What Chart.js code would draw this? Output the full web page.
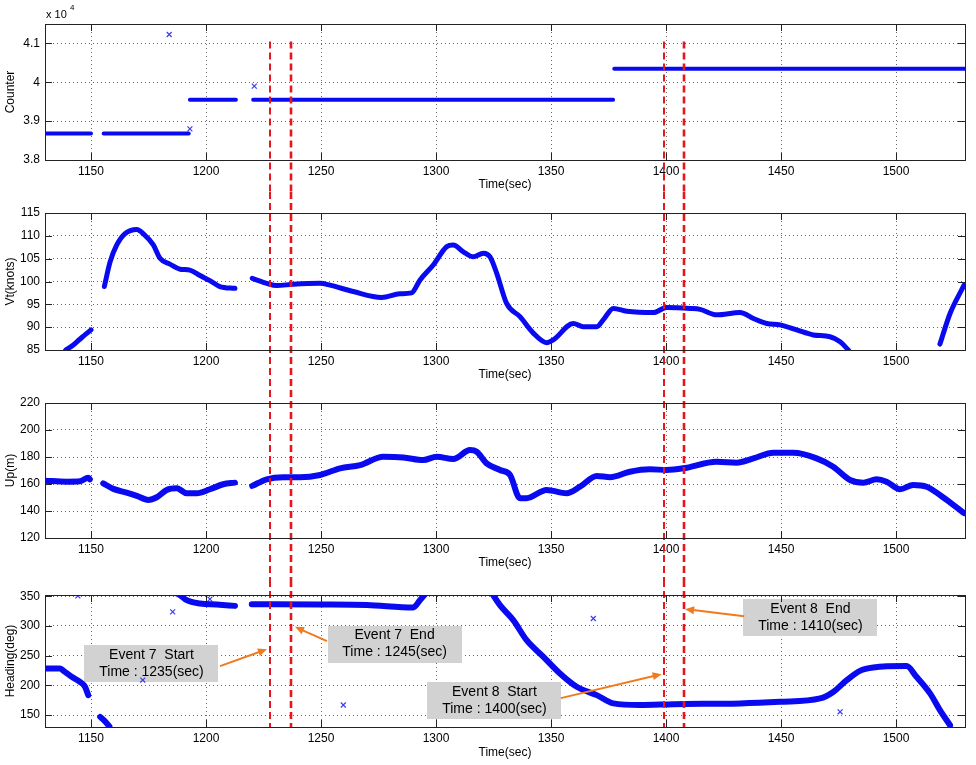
<!DOCTYPE html>
<html>
<head>
<meta charset="utf-8">
<script src="https://cdn.jsdelivr.net/npm/chart.js@4.4.0/dist/chart.umd.min.js"></script>
<style>
body { margin: 0; background: #fff; }
#wrap { position: relative; width: 976px; height: 765px; }
#wrap canvas { position: absolute; left: 0; }
</style>
</head>
<body>
<div id="wrap">
<canvas id="counterChart" width="976" height="192" style="top:0px"></canvas>
<canvas id="vtChart" width="976" height="198" style="top:192px"></canvas>
<canvas id="upChart" width="976" height="190" style="top:390px"></canvas>
<canvas id="headingChart" width="976" height="185" style="top:580px"></canvas>
</div>
<script>
// time axis ticks shared by all panels
var timeTicks = [1150, 1200, 1250, 1300, 1350, 1400, 1450, 1500];

// counter (x 10^4), null = gap in recording
var counterTime  = [1130, 1150, 1152, 1155.5, 1192.5, 1192.8, 1193, 1213, 1217, 1220.5, 1377, 1377.2, 1377.5, 1530];
var counterValue = [38680, 38680, null, 38680, 38680, null, 39550, 39550, null, 39550, 39550, null, 40350, 40350];
var counterOutTime  = [1184, 1221, 1193];
var counterOutValue = [41230, 39900, 38800];

// true airspeed (knots)
var vtTime  = [1139, 1142, 1145, 1148, 1150, 1153, 1155.8, 1158.3, 1161.2, 1164.8, 1169.9, 1172.7, 1177.1, 1180, 1184.3, 1188.7, 1193, 1197.4, 1201.7, 1206, 1212.6, 1216, 1220.1, 1226.4, 1230.7, 1238, 1249.6, 1253.9, 1264, 1276.4, 1284.3, 1289.4, 1293, 1298.8, 1304.6, 1307.5, 1311.9, 1316.2, 1320.6, 1323.5, 1326.4, 1330.7, 1336.5, 1342.3, 1348.1, 1351, 1359.7, 1364, 1369.9, 1372.7, 1377.1, 1382.9, 1394.5, 1400.3, 1410.4, 1414.8, 1422, 1432.2, 1438, 1443.8, 1449.6, 1456.8, 1464, 1471.3, 1475.7, 1479.3, 1500, 1519.1, 1523.5, 1529.6];
var vtValue = [85, 86, 87.3, 88.6, 89.4, null, 98.9, 104.3, 108, 110.5, 111.4, 110.5, 108, 105.1, 103.8, 102.7, 102.5, 101.3, 100.2, 98.9, 98.5, null, 100.7, 99.6, 99.1, 99.4, 99.6, 99.2, 97.8, 96.5, 97.3, 97.5, 100.3, 103.6, 107.6, 108, 106.5, 105.4, 106.2, 105.4, 101.8, 95.2, 92.3, 88.7, 86.6, 87.2, 90.8, 90.1, 90.1, 91.6, 94.1, 93.5, 93.2, 94.3, 94.1, 93.9, 92.7, 93.2, 91.9, 90.8, 90.5, 89.4, 88.3, 87.9, 86.8, 85, null, 86.3, 93, 99.2];

// altitude (m)
var upTime  = [1130, 1139.4, 1145.2, 1148.8, 1149.5, 1152.5, 1155.3, 1159.7, 1165.5, 1169.9, 1174.9, 1178.6, 1182.9, 1187.3, 1191.6, 1196, 1201.7, 1207.5, 1212.6, 1216, 1220.1, 1226.4, 1233.6, 1240.9, 1249.6, 1258.3, 1267, 1277.1, 1285.8, 1294.5, 1300.3, 1307.5, 1314.8, 1317.7, 1322, 1327.8, 1332.2, 1336.5, 1339.4, 1348.1, 1356.8, 1362.6, 1369.9, 1375.7, 1384.3, 1393, 1400.3, 1407.5, 1422, 1430.7, 1438, 1446.7, 1455.3, 1465.5, 1472.7, 1480, 1485.8, 1491.6, 1495.9, 1501.7, 1507.5, 1513.3, 1519.1, 1524.9, 1529.6];
var upValue = [162.5, 161.7, 162, 164.7, 163.5, null, 160.5, 156.4, 153.6, 151.2, 148.2, 150.2, 155.6, 156.8, 153.2, 153.2, 156.1, 159.8, 161, null, 158.6, 163.5, 165, 165, 166.7, 171.6, 174, 180.2, 179.7, 177.7, 180.2, 178.5, 185.1, 183.9, 175.3, 170.4, 166.7, 149.5, 149.5, 155.6, 153.2, 158, 166, 165, 169.1, 170.9, 170.4, 171.6, 176.5, 175.8, 179, 183.1, 183.1, 179, 172.8, 163, 161, 163.5, 161.7, 156.1, 159.3, 158, 151.9, 144.6, 138.4];

// heading (deg)
var hdTime  = [1130, 1136.5, 1138, 1141.6, 1145.2, 1147.4, 1148.8, 1151, 1154, 1156, 1158, 1170, 1185.8, 1188.7, 1191.6, 1197.4, 1204.6, 1212.6, 1216, 1219.9, 1249.6, 1270, 1290.1, 1293, 1297.4, 1310, 1323.5, 1327.8, 1333.6, 1339.4, 1346.7, 1353.9, 1361.2, 1369.9, 1377.1, 1388.7, 1403.2, 1432.2, 1449.6, 1467, 1472.7, 1478.6, 1484.3, 1490.1, 1504.6, 1508.9, 1514.8, 1519.1, 1523.5];
var hdValue = [228.5, 228.5, 224.6, 214.4, 206, 197.6, 183.6, null, 147, 140, 131, null, 357, 351.7, 343.3, 337.7, 336, 333.7, null, 336.6, 336, 335, 331, 343.3, 363, null, 360, 335, 309.7, 276, 248, 220, 197.6, 183.6, 169.7, 167, 168.4, 169.7, 172.4, 178, 189, 208.8, 224.4, 230, 232.4, 214.4, 186.5, 158.4, 133];
var hdOutTime  = [1144.3, 1185.5, 1201.7, 1172.5, 1259.7, 1368.4, 1475.7];
var hdOutValue = [350.5, 323.6, 345, 209, 167, 312.5, 155.6];

// event markers
var eventTimes = [1228, 1237, 1399, 1408];
var noteTitles = ['Event 7  Start', 'Event 7  End', 'Event 8  Start', 'Event 8  End'];
var noteTimes  = ['Time : 1235(sec)', 'Time : 1245(sec)', 'Time : 1400(sec)', 'Time : 1410(sec)'];

Chart.defaults.font.family = '"Liberation Sans", Arial, sans-serif';
Chart.defaults.color = '#000';

var FONT = { size: 12 };
var BLUE = '#0a0af0';

function pts(xs, ys) {
    return xs.map(function (x, i) { return { x: x, y: ys[i] }; });
}

// plot frame + inside tick marks like matlab
var framePlugin = {
    id: 'frame',
    afterDraw: function (chart) {
        var ctx = chart.ctx, a = chart.chartArea;
        var sx = chart.scales.x, sy = chart.scales.y;
        ctx.save();
        ctx.strokeStyle = '#222';
        ctx.lineWidth = 1;
        ctx.strokeRect(Math.round(a.left) + 0.5, Math.round(a.top) + 0.5, Math.round(a.right - a.left), Math.round(a.bottom - a.top));
        ctx.beginPath();
        sx.ticks.forEach(function (t) {
            var x = Math.round(sx.getPixelForValue(t.value)) + 0.5;
            ctx.moveTo(x, a.bottom); ctx.lineTo(x, a.bottom - 7);
            ctx.moveTo(x, a.top); ctx.lineTo(x, a.top + 7);
        });
        sy.ticks.forEach(function (t) {
            var y = Math.round(sy.getPixelForValue(t.value)) + 0.5;
            ctx.moveTo(a.left, y); ctx.lineTo(a.left + 7, y);
            ctx.moveTo(a.right, y); ctx.lineTo(a.right - 7, y);
        });
        ctx.stroke();
        ctx.restore();
    }
};

// red dashed event lines, drawn through every panel
var eventPlugin = {
    id: 'eventLines',
    afterDatasetsDraw: function (chart, args, opts) {
        var ctx = chart.ctx, sx = chart.scales.x;
        var y0 = opts.fromValue != null ? chart.scales.y.getPixelForValue(opts.fromValue) : 0;
        var y1 = opts.stopAtArea ? chart.chartArea.bottom : chart.height;
        ctx.save();
        ctx.strokeStyle = '#e8141e';
        ctx.setLineDash([7, 4]);
        eventTimes.forEach(function (t, i) {
            var x = Math.round(sx.getPixelForValue(t));
            ctx.lineWidth = i % 2 ? 2.6 : 2;
            ctx.beginPath();
            ctx.moveTo(x, y0);
            ctx.lineTo(x, y1);
            ctx.stroke();
        });
        ctx.restore();
    }
};

// grey label boxes with orange arrows (heading panel)
var notePlugin = {
    id: 'notes',
    beforeDatasetsDraw: function (chart, args, opts) {
        if (!opts.items) return;
        var ctx = chart.ctx, sx = chart.scales.x, sy = chart.scales.y;
        ctx.save();
        opts.items.forEach(function (n, i) {
            var cx = sx.getPixelForValue(n.box[0]), cy = sy.getPixelForValue(n.box[1]);
            ctx.fillStyle = '#d2d2d2';
            ctx.fillRect(Math.round(cx - 67), Math.round(cy - 18), 134, 37);
            ctx.fillStyle = '#000';
            ctx.font = '14px "Liberation Sans", Arial, sans-serif';
            ctx.textAlign = 'center';
            ctx.textBaseline = 'middle';
            ctx.fillText(noteTitles[i], cx, cy - 8);
            ctx.fillText(noteTimes[i], cx, cy + 9);
        });
        ctx.restore();
    },
    afterDatasetsDraw: function (chart, args, opts) {
        if (!opts.items) return;
        var ctx = chart.ctx, sx = chart.scales.x, sy = chart.scales.y;
        ctx.save();
        opts.items.forEach(function (n) {
            var x0 = sx.getPixelForValue(n.from[0]), y0 = sy.getPixelForValue(n.from[1]);
            var x1 = sx.getPixelForValue(n.to[0]), y1 = sy.getPixelForValue(n.to[1]);
            var ang = Math.atan2(y1 - y0, x1 - x0);
            ctx.strokeStyle = '#f07a1e';
            ctx.fillStyle = '#f07a1e';
            ctx.lineWidth = 2;
            ctx.beginPath();
            ctx.moveTo(x0, y0);
            ctx.lineTo(x1 - 6 * Math.cos(ang), y1 - 6 * Math.sin(ang));
            ctx.stroke();
            ctx.beginPath();
            ctx.moveTo(x1, y1);
            ctx.lineTo(x1 - 9 * Math.cos(ang) + 4 * Math.sin(ang), y1 - 9 * Math.sin(ang) - 4 * Math.cos(ang));
            ctx.lineTo(x1 - 9 * Math.cos(ang) - 4 * Math.sin(ang), y1 - 9 * Math.sin(ang) + 4 * Math.cos(ang));
            ctx.closePath();
            ctx.fill();
        });
        ctx.restore();
    }
};

// "x 10^4" multiplier on the counter axis
var exponentPlugin = {
    id: 'exponent',
    afterDraw: function (chart, args, opts) {
        if (!opts.show) return;
        var ctx = chart.ctx;
        ctx.save();
        ctx.fillStyle = '#000';
        ctx.textBaseline = 'middle';
        ctx.font = '11px "Liberation Sans", Arial, sans-serif';
        ctx.fillText('x 10', 46, 15);
        ctx.font = '8px "Liberation Sans", Arial, sans-serif';
        ctx.fillText('4', 70, 8);
        ctx.restore();
    }
};

function lineSet(data, width) {
    return {
        data: data,
        borderColor: BLUE,
        borderWidth: width,
        pointRadius: 0,
        spanGaps: false,
        cubicInterpolationMode: 'monotone',
        borderCapStyle: 'round',
        borderJoinStyle: 'round'
    };
}

function outlierSet(data) {
    return {
        data: data,
        showLine: false,
        pointStyle: 'crossRot',
        pointRadius: 3.5,
        borderColor: '#3c3cf0',
        borderWidth: 1.2
    };
}

function makePanel(canvasId, cfg) {
    var el = document.getElementById(canvasId);
    return new Chart(el, {
        type: 'line',
        data: { datasets: cfg.datasets },
        options: {
            responsive: false,
            animation: false,
            devicePixelRatio: 1,
            layout: { padding: { top: cfg.padTop, right: 11, left: 0, bottom: 0 } },
            plugins: {
                legend: { display: false },
                tooltip: { enabled: false },
                eventLines: { fromValue: cfg.lineFrom, stopAtArea: cfg.stopAtArea },
                notes: { items: cfg.notes },
                exponent: { show: cfg.exponent }
            },
            scales: {
                x: {
                    type: 'linear',
                    min: 1130,
                    max: 1530,
                    afterBuildTicks: function (s) { s.ticks = timeTicks.map(function (v) { return { value: v }; }); },
                    ticks: { padding: 4, maxRotation: 0, autoSkip: false, font: FONT, callback: function (v) { return String(v); } },
                    grid: { color: '#666', drawTicks: false },
                    border: { display: false, dash: [1, 3] },
                    title: { display: true, text: 'Time(sec)', font: FONT, padding: { top: 0, bottom: cfg.titlePad } },
                    afterFit: function (s) { s.height = cfg.axisH; }
                },
                y: {
                    min: cfg.yMin,
                    max: cfg.yMax,
                    afterBuildTicks: function (s) { s.ticks = cfg.yTicks.map(function (v) { return { value: v }; }); },
                    ticks: { padding: 5, font: FONT, callback: cfg.yFormat || function (v) { return String(v); } },
                    grid: { color: '#666', drawTicks: false },
                    border: { display: false, dash: [1, 3] },
                    title: { display: true, text: cfg.yTitle, font: FONT, padding: { top: 3, bottom: 0 } },
                    afterFit: function (s) { s.width = 45; }
                }
            }
        },
        plugins: [framePlugin, notePlugin, eventPlugin, exponentPlugin]
    });
}

var counterChart = makePanel('counterChart', {
    datasets: [lineSet(pts(counterTime, counterValue), 4), outlierSet(pts(counterOutTime, counterOutValue))],
    yMin: 38000, yMax: 41500, yTicks: [38000, 39000, 40000, 41000],
    yFormat: function (v) { return String(v / 10000); },
    yTitle: 'Counter', padTop: 24, axisH: 32, titlePad: 0,
    lineFrom: 41050, stopAtArea: false, exponent: true
});

var vtChart = makePanel('vtChart', {
    datasets: [lineSet(pts(vtTime, vtValue), 5)],
    yMin: 85, yMax: 115, yTicks: [85, 90, 95, 100, 105, 110, 115],
    yTitle: 'Vt(knots)', padTop: 21, axisH: 40, titlePad: 8,
    lineFrom: null, stopAtArea: false
});

var upChart = makePanel('upChart', {
    datasets: [lineSet(pts(upTime, upValue), 6)],
    yMin: 120, yMax: 220, yTicks: [120, 140, 160, 180, 200, 220],
    yTitle: 'Up(m)', padTop: 13, axisH: 42, titlePad: 10,
    lineFrom: null, stopAtArea: false
});

var headingChart = makePanel('headingChart', {
    datasets: [lineSet(pts(hdTime, hdValue), 6), outlierSet(pts(hdOutTime, hdOutValue))],
    yMin: 130, yMax: 352, yTicks: [150, 200, 250, 300, 350],
    yTitle: 'Heading(deg)', padTop: 15, axisH: 38, titlePad: 5,
    lineFrom: null, stopAtArea: true,
    notes: [
        { box: [1176.3, 237.4], from: [1206.1, 232.4], to: [1226.5, 260.9] },
        { box: [1282, 270.2], from: [1252.6, 274.4], to: [1238.7, 298.4] },
        { box: [1325.4, 176], from: [1354.3, 178.6], to: [1398.1, 218.9] },
        { box: [1462.8, 315.5], from: [1434, 316.4], to: [1408.3, 328.2] }
    ]
});
</script>
</body>
</html>
